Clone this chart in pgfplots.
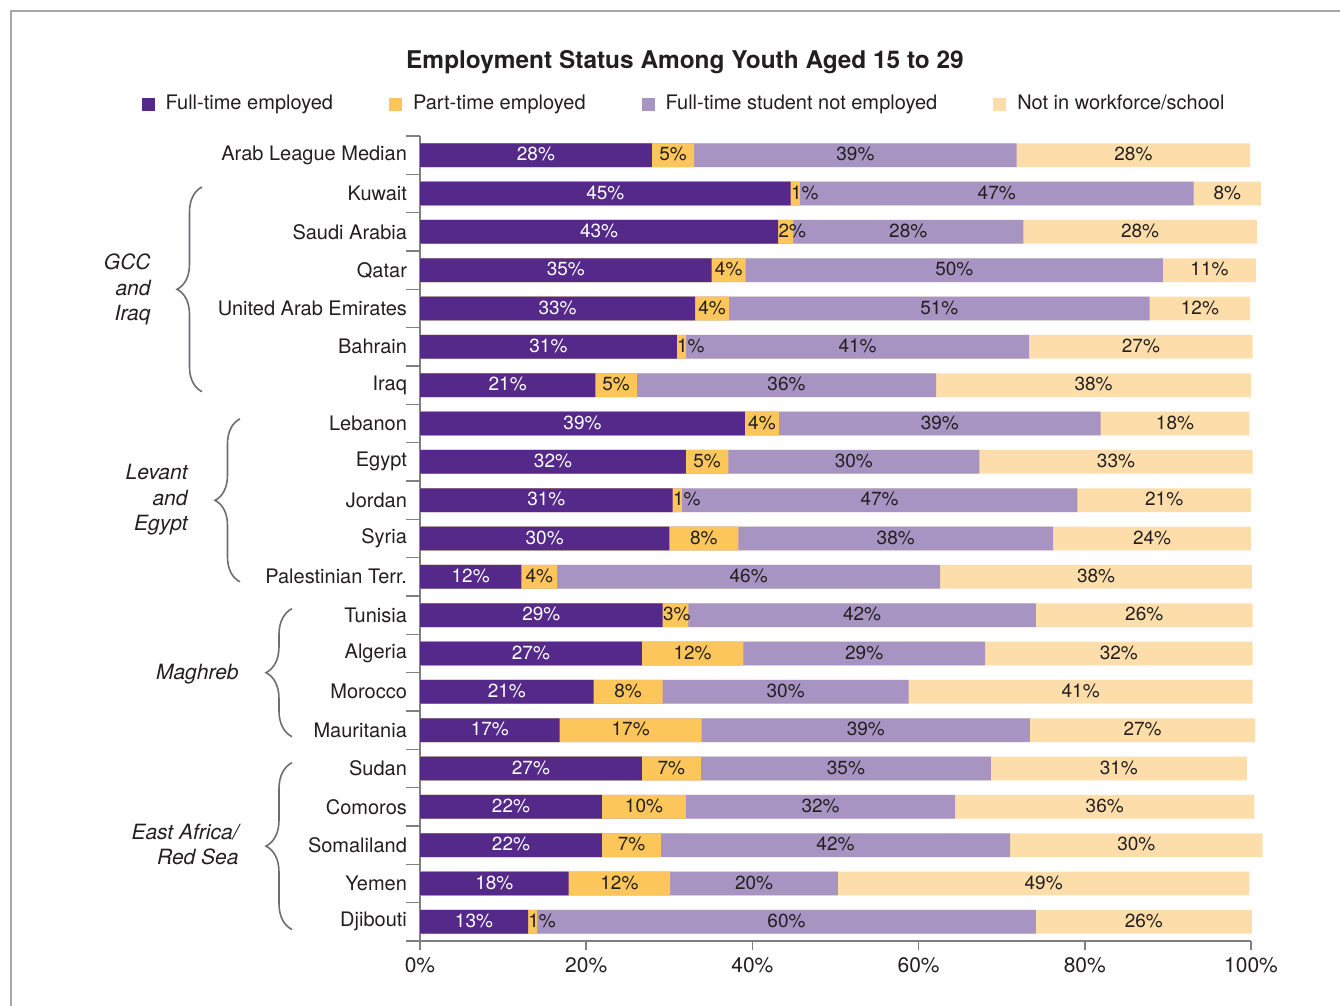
\documentclass[border=0pt]{standalone}
\usepackage{fontspec}
\setmainfont{TeX Gyre Heros}
\usepackage{pgfplots}
\usepackage{pgfplotstable}
\pgfplotsset{compat=1.18}
\usetikzlibrary{decorations.pathreplacing}

\definecolor{cFull}{HTML}{542989}
\definecolor{cPart}{HTML}{FDC65B}
\definecolor{cStud}{HTML}{A794C2}
\definecolor{cNot}{HTML}{FDDEAA}
\definecolor{axgray}{HTML}{7F7F7F}
\definecolor{brgray}{HTML}{6D6E71}
\definecolor{txt}{HTML}{231F20}

% y: 20 = top row (Arab League Median) ... 0 = Djibouti
\pgfplotstableread{
y  full part stud not  lf lp ls ln
20 27.9 5.1 38.8 28.1 28 5 39 28
19 44.6 1.1 47.4 8.1  45 1 47 8
18 43.1 1.8 27.7 28.1 43 2 28 28
17 35.1 4.1 50.2 11.2 35 4 50 11
16 33.1 4.1 50.6 12.1 33 4 51 12
15 30.9 1.1 41.3 26.9 31 1 41 27
14 21.1 5.0 36.0 37.9 21 5 36 38
13 39.1 4.1 38.7 17.9 39 4 39 18
12 32.0 5.1 30.2 32.9 32 5 30 33
11 30.4 1.1 47.6 20.9 31 1 47 21
10 30.0 8.3 37.9 23.8 30 8 38 24
9  12.2 4.3 46.1 37.5 12 4 46 38
8  29.2 3.1 41.8 26.1 29 3 42 26
7  26.7 12.2 29.1 32.2 27 12 29 32
6  20.9 8.3 29.6 41.4 21 8 30 41
5  16.8 17.1 39.5 27.1 17 17 39 27
4  26.7 7.1 34.9 30.8 27 7 35 31
3  21.9 10.1 32.4 36.0 22 10 32 36
2  21.9 7.1 42.0 30.4 22 7 42 30
1  17.9 12.2 20.2 49.5 18 12 20 49
0  13.0 1.1 60.0 26.0 13 1 60 26
}\data
\pgfplotstablecreatecol[create col/expr={\thisrow{full}+\thisrow{part}}]{c2}\data
\pgfplotstablecreatecol[create col/expr={\thisrow{c2}+\thisrow{stud}}]{c3}\data
\pgfplotstablecreatecol[create col/expr={\thisrow{c3}+\thisrow{not}}]{c4}\data
\pgfplotstablecreatecol[create col/expr={\thisrow{full}/2}]{m1}\data
\pgfplotstablecreatecol[create col/expr={max(\thisrow{full}+\thisrow{part}/2,\thisrow{full}+1.7)}]{m2}\data
\pgfplotstablecreatecol[create col/expr={\thisrow{c2}+\thisrow{stud}/2}]{m3}\data
\pgfplotstablecreatecol[create col/expr={\thisrow{c3}+\thisrow{not}/2}]{m4}\data

\begin{document}
\begin{tikzpicture}
\path[use as bounding box] (-210pt,-32.5pt) rectangle (460pt,470.5pt);
\draw[gray!70, line width=0.8pt] (-204.5pt,-32.5pt) -- (-204.5pt,465pt) -- (460pt,465pt);
\begin{axis}[
  at={(0,0)}, anchor=south west,
  scale only axis,
  width=415.5pt, height=402.5pt,
  xmin=0, xmax=100, ymin=-0.5, ymax=20.5,
  clip=false,
  axis lines*=left,
  axis line style={-, draw=axgray, line width=0.8pt},
  tick align=outside,
  major tick length=4.7pt,
  xtick={0,20,40,60,80,100},
  xticklabels={0\%,20\%,40\%,60\%,80\%,100\%},
  xtick style={draw=axgray, line width=0.8pt},
  ytick={0,...,20},
  yticklabels={Djibouti,Yemen,Somaliland,Comoros,Sudan,Mauritania,Morocco,Algeria,Tunisia,Palestinian Terr.,Syria,Jordan,Egypt,Lebanon,Iraq,Bahrain,United Arab Emirates,Qatar,Saudi Arabia,Kuwait,Arab League Median},
  ytick style={draw=none},
  yticklabel style={font=\fontsize{10}{12}\selectfont, text=txt, xshift=1.7pt},
  xticklabel style={font=\fontsize{10.5}{12}\selectfont, text=txt},
  legend columns=4,
  legend style={draw=none, at={(0.319,1.0397)}, anchor=center,
    font=\fontsize{10}{12}\selectfont, text=txt,
    /tikz/every odd column/.append style={column sep=3.5pt},
    /tikz/every even column/.append style={column sep=26pt}},
  legend image code/.code={\fill[#1, draw=none] (0pt,-3.25pt) rectangle (6.5pt,3.25pt);},
]
\addlegendimage{fill=cFull, draw=none}\addlegendentry{Full-time employed}
\addlegendimage{fill=cPart, draw=none}\addlegendentry{Part-time employed}
\addlegendimage{fill=cStud, draw=none}\addlegendentry{Full-time student not employed}
\addlegendimage{fill=cNot, draw=none}\addlegendentry{Not in workforce/school}

\addplot[forget plot, xbar, bar shift=0pt, bar width=0.62, fill=cNot, draw=none] table[x=c4, y=y]{\data};
\addplot[forget plot, xbar, bar shift=0pt, bar width=0.62, fill=cStud, draw=none] table[x=c3, y=y]{\data};
\addplot[forget plot, xbar, bar shift=0pt, bar width=0.62, fill=cPart, draw=none] table[x=c2, y=y]{\data};
\addplot[forget plot, xbar, bar shift=0pt, bar width=0.62, fill=cFull, draw=none] table[x=full, y=y]{\data};

\addplot[forget plot, draw=none, mark=none, point meta=explicit symbolic,
  nodes near coords={\pgfplotspointmeta\%}, nodes near coords align=center,
  nodes near coords style={font=\fontsize{9.5}{11}\selectfont, text=white, inner sep=0pt, yshift=0.5pt}]
  table[x=m1, y=y, meta=lf]{\data};
\addplot[forget plot, draw=none, mark=none, point meta=explicit symbolic,
  nodes near coords={\pgfplotspointmeta\%}, nodes near coords align=center,
  nodes near coords style={font=\fontsize{9.5}{11}\selectfont, text=txt, inner sep=0pt, yshift=0.5pt}]
  table[x=m2, y=y, meta=lp]{\data};
\addplot[forget plot, draw=none, mark=none, point meta=explicit symbolic,
  nodes near coords={\pgfplotspointmeta\%}, nodes near coords align=center,
  nodes near coords style={font=\fontsize{9.5}{11}\selectfont, text=txt, inner sep=0pt, yshift=0.5pt}]
  table[x=m3, y=y, meta=ls]{\data};
\addplot[forget plot, draw=none, mark=none, point meta=explicit symbolic,
  nodes near coords={\pgfplotspointmeta\%}, nodes near coords align=center,
  nodes near coords style={font=\fontsize{9.5}{11}\selectfont, text=txt, inner sep=0pt, yshift=0.5pt}]
  table[x=m4, y=y, meta=ln]{\data};

\pgfplotsinvokeforeach{-0.5,0.5,...,20.5}{
  \draw[axgray, line width=0.8pt] (axis cs:0,#1) -- ++(-7pt,0pt);
}

\begin{scope}[brgray, line width=0.8pt]
\draw[decorate, decoration={brace, amplitude=12.5pt}] ([xshift=-109pt]axis cs:0,13.83) -- ([xshift=-109pt]axis cs:0,19.17);
\draw[decorate, decoration={brace, amplitude=12.5pt}] ([xshift=-90pt]axis cs:0,8.87) -- ([xshift=-90pt]axis cs:0,13.12);
\draw[decorate, decoration={brace, amplitude=13pt}] ([xshift=-64pt]axis cs:0,4.83) -- ([xshift=-64pt]axis cs:0,8.17);
\draw[decorate, decoration={brace, amplitude=13pt}] ([xshift=-64pt]axis cs:0,-0.2) -- ([xshift=-64pt]axis cs:0,4.15);
\end{scope}
\begin{scope}[every node/.style={anchor=east, align=right, text=txt, font=\itshape\fontsize{10.5}{12.75}\selectfont, inner sep=0pt}]
\node at ([xshift=-134.5pt]axis cs:0,16.49) {GCC\\and\\Iraq};
\node at ([xshift=-116pt]axis cs:0,11.01) {Levant\\and\\Egypt};
\node at ([xshift=-90.5pt]axis cs:0,6.47) {Maghreb};
\node at ([xshift=-90.5pt]axis cs:0,2.02) {East Africa/\\Red Sea};
\end{scope}
\end{axis}
\node[font=\bfseries\fontsize{12.2}{14}\selectfont, text=txt] at (132.5pt,439.5pt) {Employment Status Among Youth Aged 15 to 29};
\end{tikzpicture}
\end{document}
